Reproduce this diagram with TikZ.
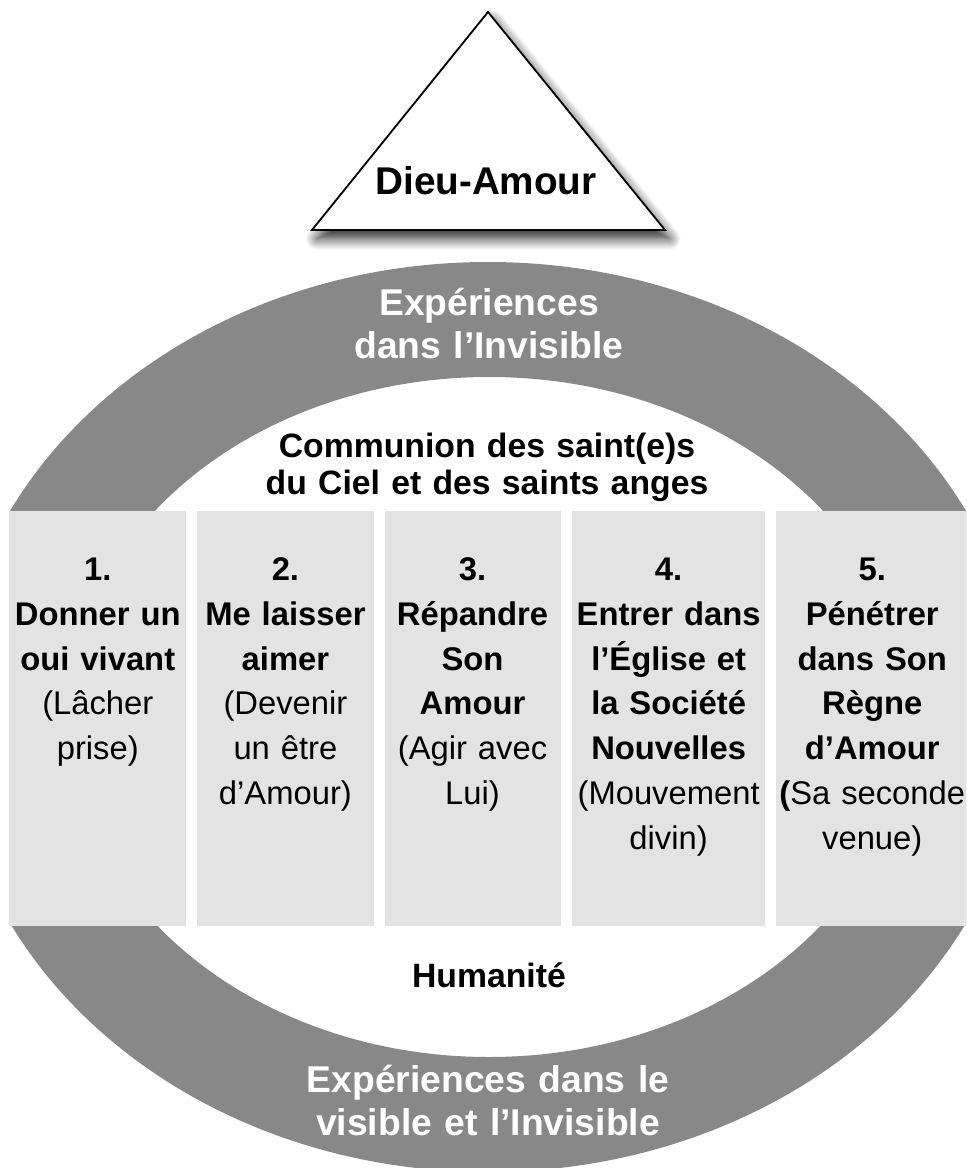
\documentclass[tikz,border=0pt]{standalone}
\usepackage{fontspec}
\setmainfont{Liberation Sans}
\usetikzlibrary{
    positioning,
    calc,
    shadows.blur
}
\definecolor{RingGray}{RGB}{136,136,136}
\definecolor{StageFill}{RGB}{227,227,227}
\tikzset{
  stage/.style     = {fill=StageFill, inner sep=0pt, minimum height=10.375cm,
                      anchor=north west},
  stagetext/.style = {anchor=base, inner sep=0pt, text width=5.5cm, align=center,
                      font=\fontsize{23.3}{32}\selectfont},
  ringtext/.style  = {anchor=base, inner sep=0pt, text width=14cm, align=center,
                      white, font=\bfseries\fontsize{26.5}{31}\selectfont}
}

\begin{document}
\begin{tikzpicture}[
    x=0.025cm, y=-0.025cm,
    innertext/.style={anchor=base, inner sep=0pt, text width=14cm, align=center,
                      font=\bfseries\fontsize{24}{26.5}\selectfont},
    godshape/.style={draw, line width=1.3pt, fill=white, line join=miter,
                     blur shadow={shadow xshift=0.12cm, shadow yshift=-0.22cm,
                                  shadow blur radius=0.28cm, shadow blur steps=10,
                                  shadow opacity=85}}
]
\useasboundingbox (0,0) rectangle (966,1168);
\clip (0,0) rectangle (966,1168);

% ring of experiences
\fill[RingGray, even odd rule]
    (488,717) ellipse [x radius=536, y radius=455]
    (489,717) ellipse [x radius=420, y radius=340];
\fill[white] (0,511) rectangle (966,926);

% triangle
\draw[godshape] (488,12) -- (665,230) -- (312,230) -- cycle;
\node[anchor=base, font=\bfseries\fontsize{27.5}{33}\selectfont] (god) at (486,195) {Dieu-Amour};

\node[ringtext] (invisible) at (489,315) {Expériences\\dans l’Invisible};
\node[innertext] (communion) at (487,457) {Communion des saint(e)s\\du Ciel et des saints anges};

% the five stages
\node[stage, minimum width=4.425cm] (s1) at (9,511) {};
\node[stage, minimum width=4.425cm, right=0.25cm of s1] (s2) {};
\node[stage, minimum width=4.4cm, right=0.25cm of s2] (s3) {};
\node[stage, minimum width=4.825cm, right=0.275cm of s3] (s4) {};
\node[stage, minimum width=4.825cm, right=0.25cm of s4] (s5) {};

\node[stagetext] (t1) at ($(s1.north)+(0,69)$) {\textbf{1.\\Donner un\\oui vivant}\\(Lâcher\\prise)};
\node[stagetext] (t2) at ($(s2.north)+(0,69)$) {\textbf{2.\\Me laisser\\aimer}\\(Devenir\\un être\\d’Amour)};
\node[stagetext] (t3) at ($(s3.north)+(0,69)$) {\textbf{3.\\Répandre\\Son\\Amour}\\(Agir avec\\Lui)};
\node[stagetext] (t4) at ($(s4.north)+(0,69)$) {\textbf{4.\\Entrer dans\\l’Église et\\la Société\\Nouvelles}\\(Mouvement\\divin)};
\node[stagetext] (t5) at ($(s5.north)+(0,69)$) {\textbf{5.\\Pénétrer\\dans Son\\Règne\\d’Amour\\(}Sa seconde\\venue)};

\node[innertext] (humanity) at (489,987) {Humanité};
\node[ringtext] (visible) at (488,1092) {Expériences dans le\\visible et l’Invisible};
\end{tikzpicture}
\end{document}
